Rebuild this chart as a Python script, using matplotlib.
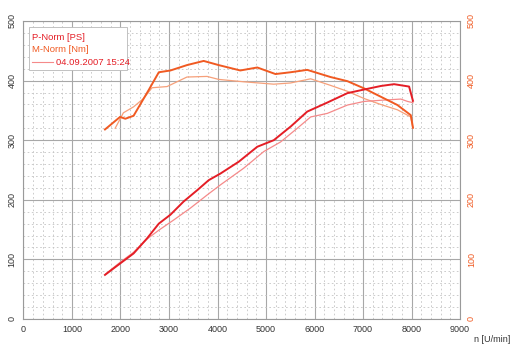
import matplotlib
matplotlib.use("Agg")
import matplotlib.pyplot as plt
import numpy as np
from matplotlib.lines import Line2D

plt.rcParams['font.family'] = ['Liberation Sans', 'DejaVu Sans']

# Engine speed [U/min] and measured curves
rpm_p_thick = [1680, 1990, 2270, 2545, 2790, 3030, 3300, 3580, 3820, 4060, 4440, 4820,
               5160, 5510, 5850, 6260, 6680, 7020, 7370, 7640, 7950, 8030]
p_thick = [74, 93, 110, 135, 160, 175, 197, 216, 233, 244, 264, 289,
           300, 323, 348, 363, 379, 385, 391, 394, 390, 366]

rpm_p_thin = [1700, 1990, 2270, 2545, 2790, 3095, 3440, 3785, 4060, 4540, 4955,
              5300, 5645, 5920, 6265, 6680, 7020, 7370, 7780, 7920, 8030]
p_thin = [76, 95, 112, 134, 149, 166, 186, 208, 225, 253, 281,
          297, 320, 339, 345, 359, 365, 367, 369, 365, 363]

rpm_m_thick = [1680, 1990, 2100, 2270, 2580, 2790, 3030, 3370, 3715, 4025, 4470, 4820,
               5195, 5505, 5850, 6330, 6680, 7020, 7365, 7710, 7985, 8030]
m_thick = [318, 339, 336, 341, 384, 414, 417, 426, 433, 426, 417, 422,
           411, 414, 418, 406, 399, 387, 373, 359, 342, 321]

rpm_m_thin = [1890, 2060, 2270, 2475, 2650, 2960, 3370, 3785, 4025, 4540, 5160,
              5505, 5920, 6330, 6680, 7020, 7365, 7710, 7985, 8030]
m_thin = [320, 346, 356, 370, 388, 390, 406, 407, 402, 398, 394,
          396, 403, 392, 382, 370, 360, 351, 339, 320]

x_ticks = [0, 1000, 2000, 3000, 4000, 5000, 6000, 7000, 8000, 9000]
y_ticks = [0, 100, 200, 300, 400, 500]

legend_lines = ["P-Norm [PS]", "M-Norm [Nm]", "04.09.2007 15:24"]

RED = "#e41e26"
ORANGE = "#f05a22"
PINK = "#f58a8a"
LIGHT_ORANGE = "#f6a07a"

fig = plt.figure(figsize=(5.13, 3.5), dpi=100)
ax = fig.add_axes([0.0458, 0.0886, 0.8509, 0.8514])

ax.set_xlim(0, 9000)
ax.set_ylim(0, 500)

# grid
ax.set_xticks(x_ticks)
ax.set_yticks(y_ticks)
ax.set_xticks(np.arange(0, 9001, 200), minor=True)
ax.set_yticks(np.arange(0, 501, 20), minor=True)
ax.grid(which='major', color='#a8a8a8', linewidth=0.8, linestyle='-')
ax.grid(which='minor', color='#c4c4c4', linewidth=0.6, linestyle=(0, (2, 3)))
ax.set_axisbelow(True)
for sp in ax.spines.values():
    sp.set_color('#9a9a9a')
    sp.set_linewidth(0.8)

ax.tick_params(which='both', length=0)
ax.tick_params(axis='x', labelsize=6.5, colors='#333333', pad=4)
ax.tick_params(axis='y', labelsize=6.5, colors='#333333', pad=5)
for lbl in ax.get_yticklabels():
    lbl.set_rotation(90)
    lbl.set_va('center')

ax2 = ax.twinx()
ax2.set_ylim(0, 500)
ax2.set_yticks(y_ticks)
ax2.tick_params(length=0, labelsize=6.5, colors=ORANGE, pad=5)
for lbl in ax2.get_yticklabels():
    lbl.set_rotation(90)
    lbl.set_va('center')
for sp in ax2.spines.values():
    sp.set_visible(False)

# curves
ax.plot(rpm_m_thin, m_thin, color=LIGHT_ORANGE, linewidth=0.9, zorder=3)
ax.plot(rpm_p_thin, p_thin, color=PINK, linewidth=0.9, zorder=3)
ax.plot(rpm_m_thick, m_thick, color=ORANGE, linewidth=1.4, zorder=4)
ax.plot(rpm_p_thick, p_thick, color=RED, linewidth=1.4, zorder=4)

# legend box
leg_box = plt.Rectangle((0.0126, 0.836), 0.2245, 0.144, transform=ax.transAxes,
                        facecolor='white', edgecolor='#b8b8b8', linewidth=0.6, zorder=5)
ax.add_patch(leg_box)
ax.text(0.02, 0.943, legend_lines[0], transform=ax.transAxes, color=RED,
        fontsize=6.8, va='center', ha='left', zorder=6)
ax.text(0.02, 0.905, legend_lines[1], transform=ax.transAxes, color=ORANGE,
        fontsize=6.8, va='center', ha='left', zorder=6)
ax.add_line(Line2D([0.02, 0.068], [0.862, 0.862], transform=ax.transAxes,
                   color=PINK, linewidth=0.8, zorder=6))
ax.text(0.075, 0.862, legend_lines[2], transform=ax.transAxes, color=RED,
        fontsize=6.8, va='center', ha='left', zorder=6)

fig.text(0.995, 0.03, "n [U/min]", color='#333333', fontsize=6.5, ha='right', va='center')

fig.savefig("out.png", dpi=100)
